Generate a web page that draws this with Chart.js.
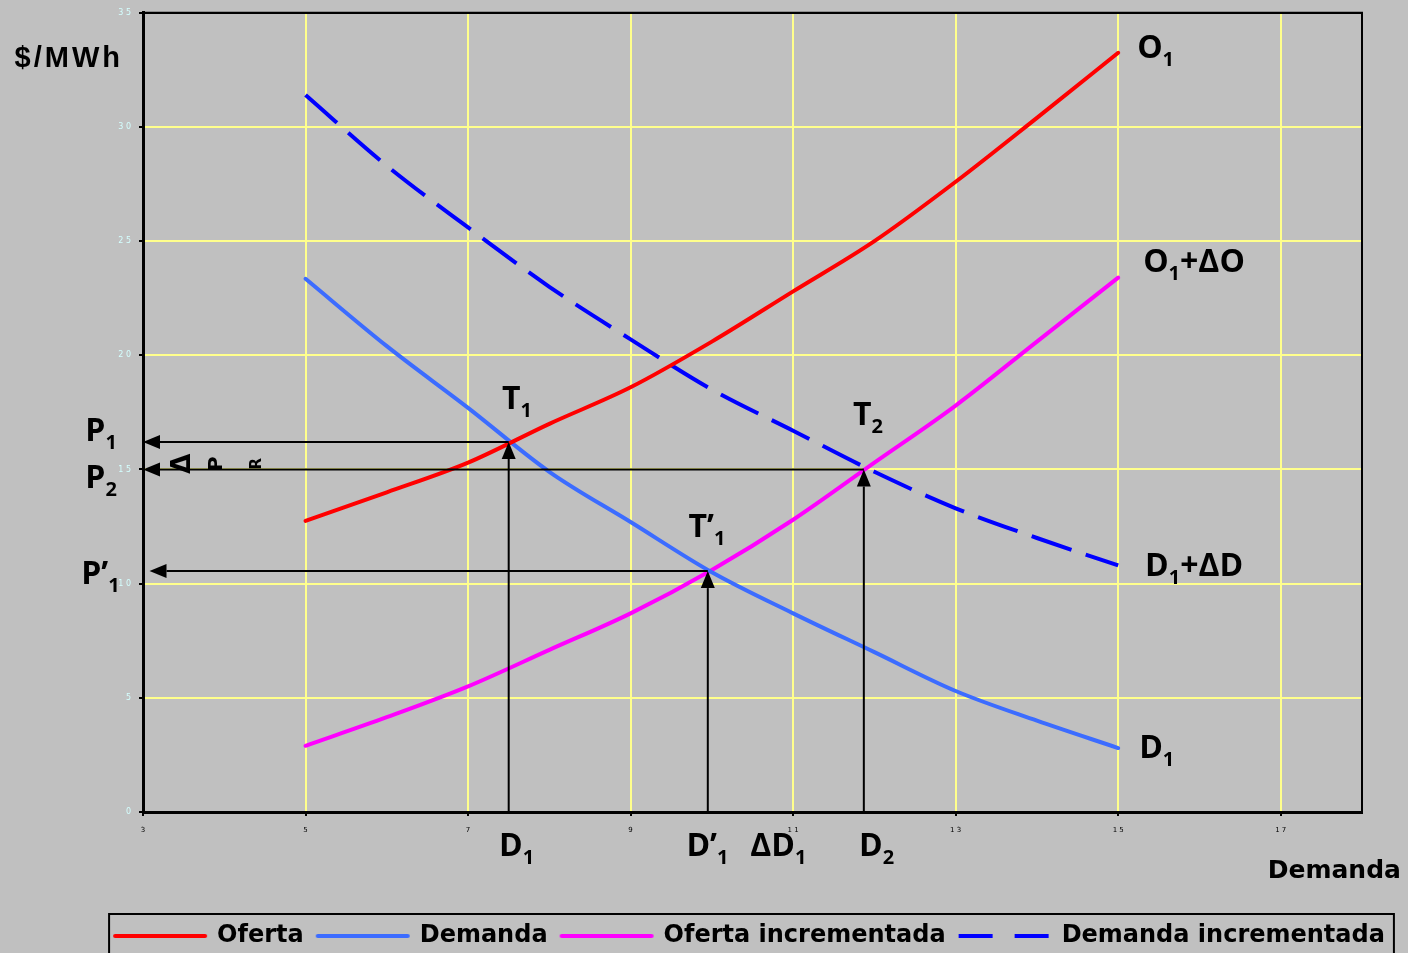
<!DOCTYPE html>
<html>
<head>
<meta charset="utf-8">
<script src="https://cdn.jsdelivr.net/npm/chart.js@4.4.1/dist/chart.umd.min.js"></script>
<style>
html,body{margin:0;padding:0;background:#c0c0c0;overflow:hidden;}
#c{display:block;}
</style>
</head>
<body>
<canvas id="c" width="1408" height="953"></canvas>
<script>
// ---- data ----
const xValues    = [5, 6, 7, 8, 9, 10, 11, 12, 13, 14, 15];
const oferta     = [12.75, 14.0, 15.3, 17.0, 18.6, 20.6, 22.8, 25.0, 27.6, 30.4, 33.25];
const demanda    = [23.35, 20.4, 17.7, 14.9, 12.7, 10.5, 8.7, 7.0, 5.3, 4.0, 2.8];
const ofertaInc  = [2.9, 4.15, 5.5, 7.1, 8.7, 10.6, 12.8, 15.3, 17.8, 20.6, 23.4];
const demandaInc = [31.4, 28.3, 25.6, 23.0, 20.7, 18.5, 16.7, 14.9, 13.3, 12.0, 10.8];
const seriesNames = ['Oferta', 'Demanda', 'Oferta incrementada', 'Demanda incrementada'];
const xTickValues = [3, 5, 7, 9, 11, 13, 15, 17];
const yTickValues = [0, 5, 10, 15, 20, 25, 30, 35];

// equilibrium points and the arrows drawn to the axes (data units)
const ptT1  = [7.5, 16.2];
const ptT1p = [9.95, 10.55];
const ptT2  = [11.87, 15.0];
const arrows = [
  {from: ptT1,  to: [3.0, ptT1[1]]},
  {from: ptT2,  to: [3.0, ptT2[1]]},
  {from: ptT1p, to: [3.08, ptT1p[1]]},
  {from: [ptT1[0], 0],  to: ptT1},
  {from: [ptT1p[0], 0], to: ptT1p},
  {from: [ptT2[0], 0],  to: ptT2}
];

// text annotations: [text, isSubscript] parts, anchored at left/baseline in data units
const textLabels = [
  {parts: [['O',0],['1',1]], x: 15.233, y: 33.04},
  {parts: [['O',0],['1',1],['+ΔO',0]], x: 15.307, y: 23.65},
  {parts: [['D',0],['1',1],['+ΔD',0]], x: 15.33, y: 10.34},
  {parts: [['D',0],['1',1]], x: 15.258, y: 2.36},
  {parts: [['T',0],['1',1]], x: 7.417, y: 17.67},
  {parts: [['T',0],['2',1]], x: 11.736, y: 16.93},
  {parts: [['T’',0],['1',1]], x: 9.712, y: 12.04},
  {parts: [['P',0],['1',1]], x: 2.29, y: 16.23},
  {parts: [['P',0],['2',1]], x: 2.29, y: 14.18},
  {parts: [['P’',0],['1',1]], x: 2.239, y: 9.99},
  {parts: [['D',0],['1',1]], x: 7.38, y: -1.92},
  {parts: [['D’',0],['1',1]], x: 9.687, y: -1.92},
  {parts: [['ΔD',0],['1',1]], x: 10.472, y: -1.92},
  {parts: [['D',0],['2',1]], x: 11.81, y: -1.92}
];
const rotatedChars = [['Δ', 3.49, 26], ['P', 3.91, 20], ['R', 4.40, 15]];
const rotatedCharsY = 15.25;
const yAxisTitle = {text: '$/MWh', x: 1.42, y: 32.64};
const xAxisTitle = {text: 'Demanda', x: 16.84, y: -2.88};

const spaced = v => String(v).split('').join(' ');
const YELLOW = '#ffff8c';

function pts(ys) { return xValues.map((x, i) => ({x: x, y: ys[i]})); }

// legend sample drawn from the dataset's own colour / dash
function makeSample(ds) {
  const cv = document.createElement('canvas');
  cv.width = 96; cv.height = 8;
  const c = cv.getContext('2d');
  c.strokeStyle = ds.borderColor;
  c.lineWidth = ds.borderWidth;
  const dashed = ds.borderDash && ds.borderDash.length;
  c.lineCap = dashed ? 'butt' : 'round';
  c.setLineDash(dashed ? [34, 22] : []);
  c.beginPath();
  c.moveTo(dashed ? 2 : 3, 4); c.lineTo(dashed ? 94 : 93, 4);
  c.stroke();
  return cv;
}

const annotationPlugin = {
  id: 'annot',
  afterDatasetsDraw(chart) {
    const {ctx, scales: {x, y}} = chart;
    ctx.save();
    ctx.strokeStyle = '#000';
    ctx.fillStyle = '#000';
    ctx.lineWidth = 2;
    ctx.setLineDash([]);
    arrows.forEach(a => {
      const x1 = x.getPixelForValue(a.from[0]), y1 = y.getPixelForValue(a.from[1]);
      const x2 = x.getPixelForValue(a.to[0]),   y2 = y.getPixelForValue(a.to[1]);
      const ang = Math.atan2(y2 - y1, x2 - x1);
      const L = 17, W = 7;
      const bx = x2 - L * Math.cos(ang), by = y2 - L * Math.sin(ang);
      ctx.beginPath(); ctx.moveTo(x1, y1); ctx.lineTo(bx, by); ctx.stroke();
      ctx.beginPath();
      ctx.moveTo(x2, y2);
      ctx.lineTo(bx + W * Math.sin(ang), by - W * Math.cos(ang));
      ctx.lineTo(bx - W * Math.sin(ang), by + W * Math.cos(ang));
      ctx.closePath(); ctx.fill();
    });
    const ca = chart.chartArea;
    ctx.lineWidth = 2;
    ctx.beginPath();
    ctx.moveTo(ca.left, ca.top); ctx.lineTo(ca.right, ca.top); ctx.lineTo(ca.right, ca.bottom);
    ctx.stroke();
    ctx.restore();
  },
  afterDraw(chart) {
    const {ctx, scales: {x, y}} = chart;
    ctx.save();
    ctx.fillStyle = '#000';
    ctx.textBaseline = 'alphabetic';
    ctx.textAlign = 'left';
    textLabels.forEach(lb => {
      let cx = x.getPixelForValue(lb.x);
      const by = y.getPixelForValue(lb.y);
      lb.parts.forEach(([s, sub]) => {
        ctx.font = sub ? '700 20px "Open Sans"' : '700 32px "Open Sans"';
        ctx.fillText(s, cx, sub ? by + 8 : by);
        cx += ctx.measureText(s).width;
      });
    });
    rotatedChars.forEach(([ch, xv, size]) => {
      ctx.save();
      ctx.translate(x.getPixelForValue(xv), y.getPixelForValue(rotatedCharsY));
      ctx.rotate(-Math.PI / 2);
      ctx.font = '700 ' + size + 'px "DejaVu Sans"';
      ctx.textAlign = 'center';
      ctx.textBaseline = 'middle';
      ctx.fillText(ch, 0, 0);
      ctx.restore();
    });
    ctx.font = 'bold 29px "Liberation Sans"';
    if ('letterSpacing' in ctx) ctx.letterSpacing = '3px';
    ctx.fillText(yAxisTitle.text, x.getPixelForValue(yAxisTitle.x), y.getPixelForValue(yAxisTitle.y));
    if ('letterSpacing' in ctx) ctx.letterSpacing = '0px';
    ctx.font = 'bold 25px "DejaVu Sans"';
    ctx.fillText(xAxisTitle.text, x.getPixelForValue(xAxisTitle.x), y.getPixelForValue(xAxisTitle.y));
    const lg = chart.legend;
    if (lg && lg.legendHitBoxes && lg.legendHitBoxes.length) {
      const hb = lg.legendHitBoxes;
      const l = Math.min(...hb.map(h => h.left)) - 6;
      const r = Math.max(...hb.map(h => h.left + h.width)) + 9;
      const t = hb[0].top + hb[0].height / 2 - 22;
      ctx.strokeStyle = '#000';
      ctx.lineWidth = 2;
      ctx.strokeRect(l, t, r - l, 80);
    }
    ctx.restore();
  }
};

new Chart(document.getElementById('c'), {
  type: 'line',
  data: {
    datasets: [
      {label: seriesNames[0], data: pts(oferta), borderColor: '#ff0000', backgroundColor: '#ff0000',
       borderWidth: 4, pointRadius: 0, cubicInterpolationMode: 'monotone', borderCapStyle: 'round'},
      {label: seriesNames[1], data: pts(demanda), borderColor: '#3c6cff', backgroundColor: '#3c6cff',
       borderWidth: 4, pointRadius: 0, cubicInterpolationMode: 'monotone', borderCapStyle: 'round'},
      {label: seriesNames[2], data: pts(ofertaInc), borderColor: '#ff00ff', backgroundColor: '#ff00ff',
       borderWidth: 4, pointRadius: 0, cubicInterpolationMode: 'monotone', borderCapStyle: 'round'},
      {label: seriesNames[3], data: pts(demandaInc), borderColor: '#0000ff', backgroundColor: '#0000ff',
       borderWidth: 4, pointRadius: 0, cubicInterpolationMode: 'monotone', borderDash: [42, 15], borderCapStyle: 'butt'}
    ]
  },
  options: {
    responsive: false,
    animation: false,
    devicePixelRatio: 1,
    layout: {padding: {left: 92, right: 0, top: 10, bottom: -5}},
    scales: {
      x: {
        type: 'linear', min: 3, max: 18,
        afterBuildTicks: s => { s.ticks = xTickValues.map(v => ({value: v})); },
        afterFit: s => { s.height = 98; },
        ticks: {font: {size: 7, family: 'DejaVu Sans'}, color: '#000', padding: 10, autoSkip: false, maxRotation: 0,
                callback: v => spaced(v)},
        grid: {color: YELLOW, lineWidth: 2, tickColor: '#000', tickLength: 4, tickWidth: 2},
        border: {color: '#000', width: 3}
      },
      y: {
        type: 'linear', min: 0, max: 35,
        afterBuildTicks: s => { s.ticks = yTickValues.map(v => ({value: v})); },
        afterFit: s => { s.width = 51; },
        ticks: {font: {size: 8, family: 'DejaVu Sans'}, color: '#d4ffff', padding: 8, callback: v => spaced(v)},
        grid: {color: c => (c.tick && c.tick.value === 35) ? '#000' : YELLOW, lineWidth: 2, tickColor: '#000', tickLength: 4, tickWidth: 2},
        border: {color: '#000', width: 3}
      },
      yRightSpace: {
        type: 'linear', position: 'right', display: true,
        afterFit: s => { s.width = 46; },
        ticks: {display: false}, grid: {display: false, drawTicks: false}, border: {display: false}
      }
    },
    plugins: {
      legend: {
        position: 'bottom',
        labels: {
          usePointStyle: true, pointStyleWidth: 90, padding: 14,
          color: '#000', font: {family: 'DejaVu Sans', size: 24, weight: 'bold'},
          generateLabels: chart => {
            const items = Chart.defaults.plugins.legend.labels.generateLabels(chart);
            items.forEach(it => { it.pointStyle = makeSample(chart.data.datasets[it.datasetIndex]); });
            return items;
          }
        }
      },
      tooltip: {enabled: false}
    }
  },
  plugins: [annotationPlugin]
});
</script>
</body>
</html>
